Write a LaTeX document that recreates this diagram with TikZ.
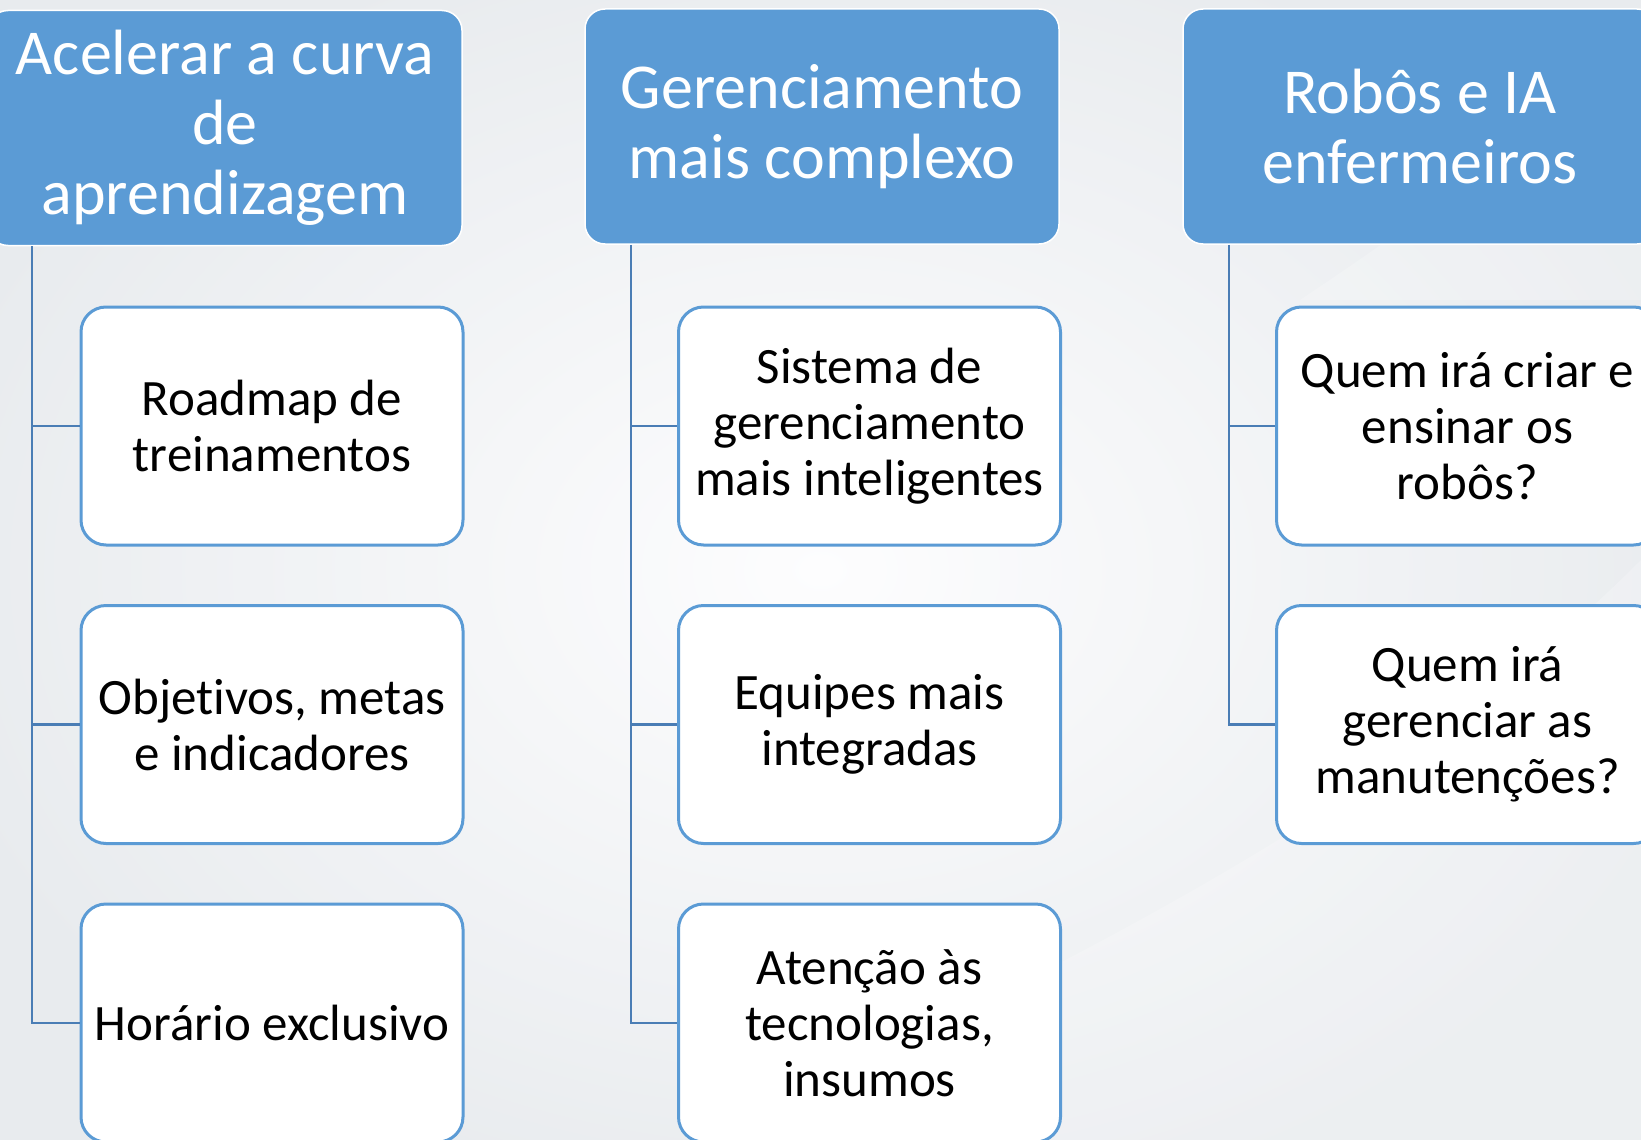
\documentclass[tikz,border=0pt]{standalone}
\usepackage{fontspec}
\setmainfont[Ligatures={NoCommon}]{Carlito}
\definecolor{headblue}{HTML}{5B9BD5}
\definecolor{linkblue}{HTML}{4A7DB5}
\definecolor{bgouter}{HTML}{E8EBEE}
\definecolor{bginner}{HTML}{FDFDFE}
\begin{document}
\begin{tikzpicture}[x=1pt,y=-1pt,
  headbox/.style={draw=white, line width=1.5pt, fill=headblue, rounded corners=20pt,
    minimum width=474pt, minimum height=235pt, inner sep=0pt, align=center,
    text=white, font=\fontsize{64}{70}\selectfont},
  childbox/.style={draw=headblue, line width=3pt, fill=white, rounded corners=25pt,
    minimum width=382pt, minimum height=238pt, inner sep=0pt, align=center,
    text=black, font=\fontsize{51}{56}\selectfont},
  conn/.style={draw=linkblue, line width=2.5pt}]
\useasboundingbox (0,0) rectangle (1641,1140);
\clip (0,0) rectangle (1641,1140);
\shade[inner color=bginner, outer color=bgouter] (-100,-100) rectangle (1741,1240);
\fill[white, opacity=0.2] (700,1140) .. controls (1100,950) and (1400,800) .. (1641,560) -- (1641,1140) -- cycle;
\fill[white, opacity=0.2] (1300,300) .. controls (1450,200) and (1550,120) .. (1641,60) -- (1641,300) -- cycle;

\coordinate (v1) at (32,0);
\coordinate (v2) at (631,0);
\coordinate (v3) at (1229,0);

\node[headbox] (h1) at (225,128) {Acelerar a curva\\de\\aprendizagem};
\node[headbox] (h2) at (822,126.5) {Gerenciamento\\mais complexo};
\node[headbox] (h3) at (1420,126.5) {Robôs e IA\\enfermeiros};

\node[childbox] (c11) at (272,426) {Roadmap de\\treinamentos};
\node[childbox] (c12) at (272,724.5) {Objet\kern0pt ivos, metas\\e indicadores};
\node[childbox] (c13) at (272,1023) {Horário exclusivo};

\node[childbox] (c21) at (869.5,426) {Sistema de\\gerenciamento\\mais inteligentes};
\node[childbox] (c22) at (869.5,724.5) {Equipes mais\\integradas};
\node[childbox] (c23) at (869.5,1023) {Atenção às\\tecnologias,\\insumos};

\node[childbox] (c31) at (1467.5,426) {Quem irá criar e\\ensinar os\\robôs?};
\node[childbox] (c32) at (1467.5,724.5) {Quem irá\\gerenciar as\\manutenções?};

\draw[conn] (h1.south -| v1) |- (c13.west);
\draw[conn] (v1 |- c11.west) -- (c11.west);
\draw[conn] (v1 |- c12.west) -- (c12.west);

\draw[conn] (h2.south -| v2) |- (c23.west);
\draw[conn] (v2 |- c21.west) -- (c21.west);
\draw[conn] (v2 |- c22.west) -- (c22.west);

\draw[conn] (h3.south -| v3) |- (c32.west);
\draw[conn] (v3 |- c31.west) -- (c31.west);
\end{tikzpicture}
\end{document}
